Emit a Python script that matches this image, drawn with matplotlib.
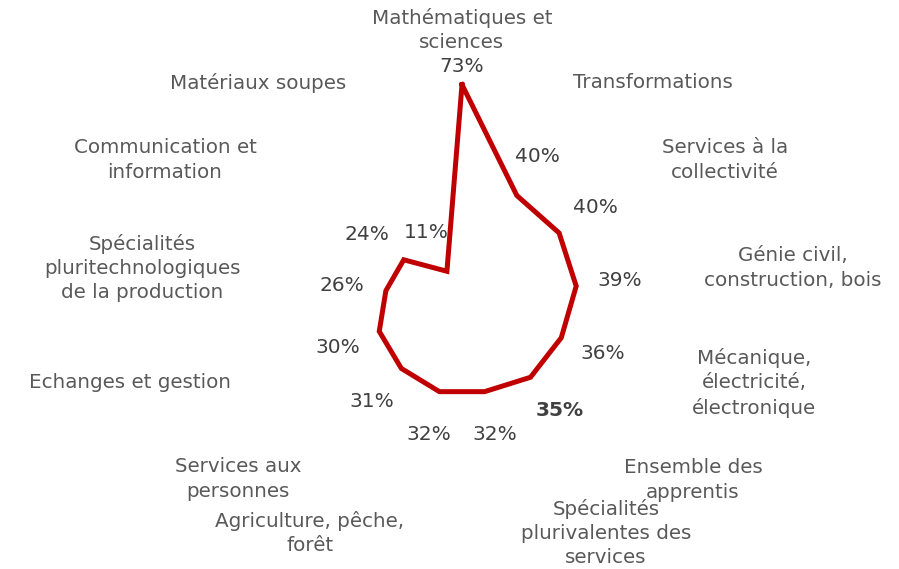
import numpy as np
import matplotlib.pyplot as plt

# Part des apprentis par domaine de spécialité (%)
categories = [
    "Mathématiques et\nsciences",
    "Transformations",
    "Services à la\ncollectivité",
    "Génie civil,\nconstruction, bois",
    "Mécanique,\nélectricité,\nélectronique",
    "Ensemble des\napprentis",
    "Spécialités\nplurivalentes des\nservices",
    "Agriculture, pêche,\nforêt",
    "Services aux\npersonnes",
    "Echanges et gestion",
    "Spécialités\npluritechnologiques\nde la production",
    "Communication et\ninformation",
    "Matériaux soupes",
]
valeurs = [73, 40, 40, 39, 36, 35, 32, 32, 31, 30, 26, 24, 11]
ensemble_idx = 5

# centre des libellés de catégorie, en pixels
pos_libelles = [
    (462, 30), (653, 83), (725, 160), (793, 268), (754, 383), (693, 480),
    (606, 533), (310, 533), (238, 479), (130, 383), (142, 268), (165, 160),
    (258, 83),
]

W, H = 899, 569
fig = plt.figure(figsize=(W / 100, H / 100), dpi=100)
ax = fig.add_axes([226 / W, 33 / H, 472 / W, 472 / H], projection='polar')
ax.set_theta_zero_location('N')
ax.set_theta_direction(-1)
ax.set_ylim(0, 80)
ax.axis('off')

n = len(valeurs)
angles = np.arange(n) * 2 * np.pi / n
v = np.array(valeurs, dtype=float)
ax.plot(np.append(angles, angles[0]), np.append(v, v[0]),
        color='#C00000', lw=3.6, solid_joinstyle='miter', clip_on=False)

# étiquettes de valeurs
lab_r = v + 15
lab_r[0] = v[0] + 6
for i, (a, r) in enumerate(zip(angles, lab_r)):
    ax.text(a, r, f"{valeurs[i]}%", ha='center', va='center',
            fontsize=14.5, color='#404040',
            fontweight='bold' if i == ensemble_idx else 'normal')

for lab, (x, y) in zip(categories, pos_libelles):
    fig.text(x / W, 1 - y / H, lab, ha='center', va='center',
             fontsize=14.3, color='#595959', linespacing=1.35)

fig.savefig('out.png', dpi=100)
